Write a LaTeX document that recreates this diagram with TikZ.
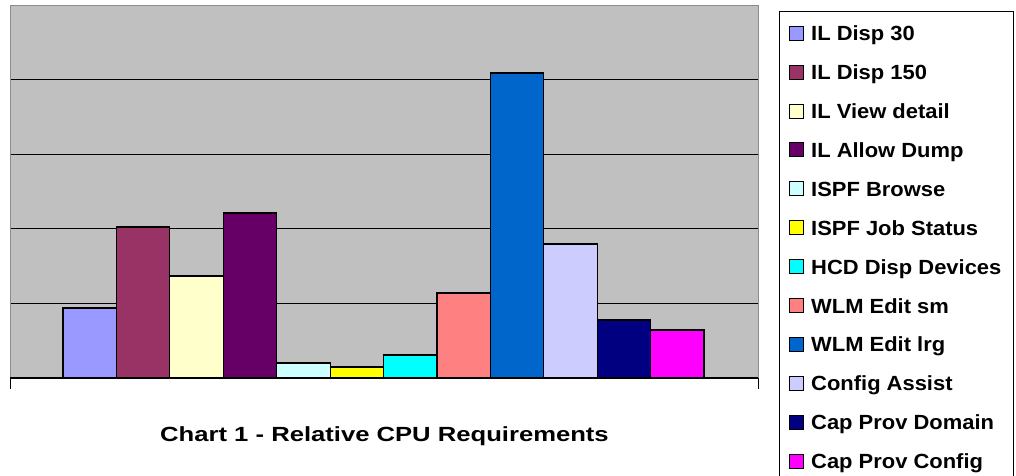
\documentclass[tikz,border=0pt]{standalone}
\usepackage{fontspec}
\setmainfont{Liberation Sans}
\newfontfamily\legfont[FakeStretch=1.07]{Liberation Sans}
\newfontfamily\ttlfont[FakeStretch=1.25]{Liberation Sans}
\definecolor{plotbg}{HTML}{C0C0C0}
\definecolor{c1}{HTML}{9999FF}
\definecolor{c2}{HTML}{993366}
\definecolor{c3}{HTML}{FFFFCC}
\definecolor{c4}{HTML}{660066}
\definecolor{c5}{HTML}{CCFFFF}
\definecolor{c6}{HTML}{FFFF00}
\definecolor{c7}{HTML}{00FFFF}
\definecolor{c8}{HTML}{FF8080}
\definecolor{c9}{HTML}{0066CC}
\definecolor{c10}{HTML}{CCCCFF}
\definecolor{c11}{HTML}{000080}
\definecolor{c12}{HTML}{FF00FF}
\begin{document}
\begin{tikzpicture}[x=1pt,y=-1pt,
  gridline/.style={black,line width=1.2pt},
  plotframe/.style={draw=gray!90,line width=1pt},
  barbox/.style={draw=black,line width=1.2pt},
  legbox/.style={draw=black,line width=1pt},
  legsq/.style={draw=black,line width=1pt},
  legtext/.style={anchor=base west,inner sep=0pt,font=\legfont\fontsize{20.5}{24}\selectfont\bfseries},
  titletext/.style={anchor=base,inner sep=0pt,font=\ttlfont\fontsize{20.5}{24}\selectfont\bfseries}]
\useasboundingbox (0,0) rectangle (1016,475);
% plot area
\fill[plotbg] (10,5) rectangle (758,378);
\foreach \y in {79.6,154.2,228.8,303.4}
  \draw[gridline] (10,\y) -- (758,\y);
\draw[plotframe] (10,378) -- (10,5) -- (758,5) -- (758,378);
% bars
\foreach \c/\t [count=\i] in {c1/308,c2/227,c3/276,c4/213,c5/363,c6/367,c7/355,c8/293,c9/73,c10/244,c11/320,c12/330}
  \draw[barbox,fill=\c] ({63+(\i-1)*53.42},378) rectangle ({63+\i*53.42},\t);
% axis
\draw[black,line width=1.2pt] (10,378) -- (758,378);
\draw[black,line width=1pt] (10,378) -- (10,389);
\draw[black,line width=1pt] (758,378) -- (758,389);
% title
\node[titletext] (title) at (384.5,441) {Chart 1 - Relative CPU Requirements};
% legend
\draw[legbox] (779,11) rectangle (1013,480);
\foreach \c/\txt [count=\i] in {c1/IL Disp 30,c2/IL Disp 150,c3/IL View detail,c4/IL Allow Dump,c5/ISPF Browse,c6/ISPF Job Status,c7/HCD Disp Devices,c8/WLM Edit sm,c9/WLM Edit lrg,c10/Config Assist,c11/Cap Prov Domain,c12/Cap Prov Config}
{
  \pgfmathsetmacro{\yy}{33.2+(\i-1)*38.9}
  \draw[legsq,fill=\c] (789,\yy-7) rectangle (803.5,\yy+7);
  \node[legtext] (leg\i) at (811,\yy+7.5) {\txt};
}
\end{tikzpicture}
\end{document}
